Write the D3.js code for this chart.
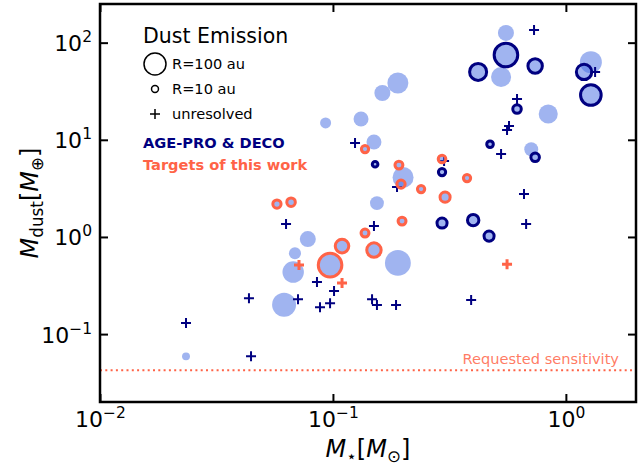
<!DOCTYPE html>
<html>
<head>
<meta charset="utf-8">
<script src="https://cdn.jsdelivr.net/npm/d3@7"></script>
<style>
body { margin: 0; background: #fff; }
svg { display: block; font-family: "DejaVu Sans", sans-serif; }
</style>
</head>
<body>
<div id="chart"></div>
<script>
// [M_star (Msun), M_dust (Mearth), R_dust (au)]
const backgroundDisks = [
    [0.0234, 0.059, 13], [0.0617, 0.20, 119], [0.0675, 0.435, 95], [0.0687, 0.68, 30],
    [0.078, 0.95, 53], [0.093, 14.9, 25], [0.132, 16.4, 46], [0.163, 30.3, 53],
    [0.190, 38.4, 91], [0.150, 9.5, 46], [0.200, 4.1, 91], [0.1545, 2.23, 40],
    [0.190, 0.54, 138], [0.553, 126, 53], [0.527, 44.3, 83], [1.28, 63, 100],
    [0.84, 18.4, 75], [0.71, 8.0, 40]
];
// AGE-PRO & DECO, resolved
const ageproResolved = [
    [0.553, 74.6, 115], [0.420, 50, 60], [0.738, 57.5, 43], [1.197, 50, 49],
    [1.28, 28.9, 88], [0.617, 20.7, 15], [0.4725, 9.0, 9], [0.738, 6.6, 15],
    [0.294, 4.65, 11], [0.294, 1.39, 21], [0.40, 1.49, 27], [0.468, 1.02, 21],
    [0.1517, 5.6, 6.5]
];
// AGE-PRO & DECO, unresolved  [M_star, M_dust]
const ageproUnresolved = [
    [0.730, 135], [1.335, 50], [0.617, 26.3], [0.570, 13.9], [0.559, 12.6],
    [0.527, 7.13], [0.661, 2.76], [0.675, 1.356], [0.300, 6.04], [0.1244, 9.26],
    [0.1884, 3.26], [0.0629, 1.356], [0.150, 1.294], [0.0854, 0.343], [0.1011, 0.277],
    [0.0972, 0.208], [0.0880, 0.189], [0.0708, 0.229], [0.0436, 0.234], [0.0234, 0.130],
    [0.0445, 0.059], [0.1472, 0.229], [0.1545, 0.199], [0.1866, 0.199], [0.392, 0.224]
];
// Targets of this work, resolved
const thisWorkResolved = [
    [0.1373, 8.03, 11], [0.192, 5.49, 13], [0.196, 3.50, 14], [0.239, 3.11, 11],
    [0.198, 1.456, 13], [0.1373, 1.096, 13], [0.1094, 0.805, 38], [0.150, 0.733, 43],
    [0.0575, 2.18, 14], [0.0661, 2.28, 15], [0.0972, 0.513, 115], [0.294, 6.34, 12],
    [0.3764, 4.04, 11], [0.303, 2.57, 21]
];
// Targets of this work, unresolved
const thisWorkUnresolved = [[0.0715, 0.513], [0.1094, 0.335], [0.559, 0.525]];

const xTickValues = [0.01, 0.1, 1];
const yTickValues = [0.1, 1, 10, 100];
const requestedSensitivity = 0.0425;
const legendSizes = [100, 10];

const navy = "#000080";
const tomato = "#ff6347";
const lightBlue = "royalblue";

const width = 638, height = 466;
const margin = { top: 4, right: 2, bottom: 64, left: 100 };
const smallFont = 14.6;

const svg = d3.select("#chart").append("svg")
    .attr("width", width)
    .attr("height", height);

const x = d3.scaleLog().domain([0.01, 2]).range([margin.left, width - margin.right]);
const y = d3.scaleLog().domain([0.02, 250]).range([height - margin.bottom, margin.top]);
const r = d3.scaleSqrt().domain([0, 100]).range([0, 11]);

const plusPath = s => `M${-s},0H${s}M0,${-s}V${s}`;

// clip to plot area
svg.append("clipPath").attr("id", "clip")
    .append("rect")
    .attr("x", margin.left).attr("y", margin.top)
    .attr("width", width - margin.left - margin.right)
    .attr("height", height - margin.top - margin.bottom);

const plot = svg.append("g").attr("clip-path", "url(#clip)");

// requested sensitivity
plot.append("line")
    .attr("x1", margin.left).attr("x2", width - margin.right)
    .attr("y1", y(requestedSensitivity)).attr("y2", y(requestedSensitivity))
    .attr("stroke", tomato)
    .attr("stroke-width", 2)
    .attr("stroke-dasharray", "2,3.3");

svg.append("text")
    .attr("x", 619)
    .attr("y", y(requestedSensitivity) - 6)
    .attr("text-anchor", "end")
    .attr("font-size", smallFont)
    .attr("fill", tomato)
    .attr("fill-opacity", 0.85)
    .text("Requested sensitivity");

// background sample
plot.selectAll(".bg")
    .data(backgroundDisks)
    .join("circle")
    .attr("class", "bg")
    .attr("cx", d => x(d[0]))
    .attr("cy", d => y(d[1]))
    .attr("r", d => r(d[2]))
    .attr("fill", lightBlue)
    .attr("fill-opacity", 0.5);

// AGE-PRO unresolved
plot.selectAll(".ap-plus")
    .data(ageproUnresolved)
    .join("path")
    .attr("class", "ap-plus")
    .attr("transform", d => `translate(${x(d[0])},${y(d[1])})`)
    .attr("d", plusPath(5))
    .attr("stroke", navy)
    .attr("stroke-width", 2)
    .attr("fill", "none");

// AGE-PRO resolved
plot.selectAll(".ap-ring")
    .data(ageproResolved)
    .join("circle")
    .attr("class", "ap-ring")
    .attr("cx", d => x(d[0]))
    .attr("cy", d => y(d[1]))
    .attr("r", d => r(d[2]))
    .attr("fill", lightBlue)
    .attr("fill-opacity", 0.5)
    .attr("stroke", navy)
    .attr("stroke-width", 3);

// this work resolved
plot.selectAll(".tw-ring")
    .data(thisWorkResolved)
    .join("circle")
    .attr("class", "tw-ring")
    .attr("cx", d => x(d[0]))
    .attr("cy", d => y(d[1]))
    .attr("r", d => r(d[2]))
    .attr("fill", lightBlue)
    .attr("fill-opacity", 0.5)
    .attr("stroke", tomato)
    .attr("stroke-width", 3);

// this work unresolved
plot.selectAll(".tw-plus")
    .data(thisWorkUnresolved)
    .join("path")
    .attr("class", "tw-plus")
    .attr("transform", d => `translate(${x(d[0])},${y(d[1])})`)
    .attr("d", plusPath(5))
    .attr("stroke", tomato)
    .attr("stroke-width", 3)
    .attr("fill", "none");

// axes, ticks pointing inwards on all four sides
const tickLen = 8;
function styleAxis(g) {
    g.select(".domain").remove();
    g.selectAll(".tick line").attr("stroke", "#000").attr("stroke-width", 2);
}
function powerLabel(text, v) {
    const e = Math.round(Math.log10(v));
    text.text(null);
    text.append("tspan").text("10");
    text.append("tspan")
        .attr("dy", -9)
        .attr("font-size", 15.5)
        .text(String(e).replace("-", "\u2212"));
}

svg.append("g")
    .attr("transform", `translate(0,${height - margin.bottom})`)
    .call(d3.axisBottom(x).tickValues(xTickValues).tickSize(-tickLen).tickSizeOuter(0))
    .call(styleAxis)
    .call(g => g.selectAll(".tick text")
        .attr("y", 25).attr("dy", 0)
        .attr("font-size", 22)
        .attr("font-family", "DejaVu Sans")
        .attr("fill", "#000")
        .each(function(d) { powerLabel(d3.select(this), d); }));

svg.append("g")
    .attr("transform", `translate(0,${margin.top})`)
    .call(d3.axisTop(x).tickValues(xTickValues).tickSize(-tickLen).tickFormat(""))
    .call(styleAxis);

svg.append("g")
    .attr("transform", `translate(${margin.left},0)`)
    .call(d3.axisLeft(y).tickValues(yTickValues).tickSize(-tickLen).tickSizeOuter(0))
    .call(styleAxis)
    .call(g => g.selectAll(".tick text")
        .attr("x", -8).attr("dy", "0.36em")
        .attr("font-size", 22)
        .attr("font-family", "DejaVu Sans")
        .attr("fill", "#000")
        .each(function(d) { powerLabel(d3.select(this), d); }));

svg.append("g")
    .attr("transform", `translate(${width - margin.right},0)`)
    .call(d3.axisRight(y).tickValues(yTickValues).tickSize(-tickLen).tickFormat(""))
    .call(styleAxis);

// frame
svg.append("rect")
    .attr("x", margin.left).attr("y", margin.top)
    .attr("width", width - margin.left - margin.right)
    .attr("height", height - margin.top - margin.bottom)
    .attr("fill", "none")
    .attr("stroke", "#000")
    .attr("stroke-width", 2.5);

// axis titles (math style)
function mathText(text, parts, size) {
    const sub = size * 0.7;
    let shifted = false;
    parts.forEach(p => {
        const t = text.append("tspan").text(p.t);
        if (p.it) t.attr("font-style", "italic");
        if (p.sub) {
            t.attr("font-size", sub).attr("dy", shifted ? 0 : size * 0.22);
            shifted = true;
        } else if (shifted) {
            t.attr("dy", -size * 0.22);
            shifted = false;
        }
    });
}

const xTitle = svg.append("text")
    .attr("x", (margin.left + width - margin.right) / 2)
    .attr("y", 457)
    .attr("text-anchor", "middle")
    .attr("font-size", 24);
mathText(xTitle, [
    { t: "M", it: true }, { t: "\u22C6", sub: true },
    { t: "[" }, { t: "M", it: true }, { t: "\u2299", sub: true }, { t: "]" }
], 24);

const yTitle = svg.append("text")
    .attr("transform", `translate(38,${(margin.top + height - margin.bottom) / 2}) rotate(-90)`)
    .attr("text-anchor", "middle")
    .attr("font-size", 24);
mathText(yTitle, [
    { t: "M", it: true }, { t: "dust", sub: true },
    { t: "[" }, { t: "M", it: true }, { t: "\u2295", sub: true }, { t: "]" }
], 24);

// legend
const legend = svg.append("g");
legend.append("text")
    .attr("x", 143).attr("y", 43)
    .attr("font-size", 20.5)
    .text("Dust Emission");

const legendRows = [
    { label: "R=100 au", size: legendSizes[0], cy: 64 },
    { label: "R=10 au", size: legendSizes[1], cy: 89 },
    { label: "unresolved", size: null, cy: 114 }
];
legendRows.forEach(row => {
    if (row.size) {
        legend.append("circle")
            .attr("cx", 155).attr("cy", row.cy)
            .attr("r", r(row.size))
            .attr("fill", "none")
            .attr("stroke", "#000")
            .attr("stroke-width", 1.5);
    } else {
        legend.append("path")
            .attr("transform", `translate(155,${row.cy})`)
            .attr("d", plusPath(5))
            .attr("stroke", "#000")
            .attr("stroke-width", 1.5);
    }
    legend.append("text")
        .attr("x", 172).attr("y", row.cy + 5)
        .attr("font-size", smallFont)
        .text(row.label);
});

legend.append("text")
    .attr("x", 143).attr("y", 148)
    .attr("font-size", smallFont)
    .attr("font-weight", "bold")
    .attr("fill", navy)
    .text("AGE-PRO & DECO");

legend.append("text")
    .attr("x", 143).attr("y", 170)
    .attr("font-size", smallFont)
    .attr("font-weight", "bold")
    .attr("fill", tomato)
    .text("Targets of this work");
</script>
</body>
</html>
